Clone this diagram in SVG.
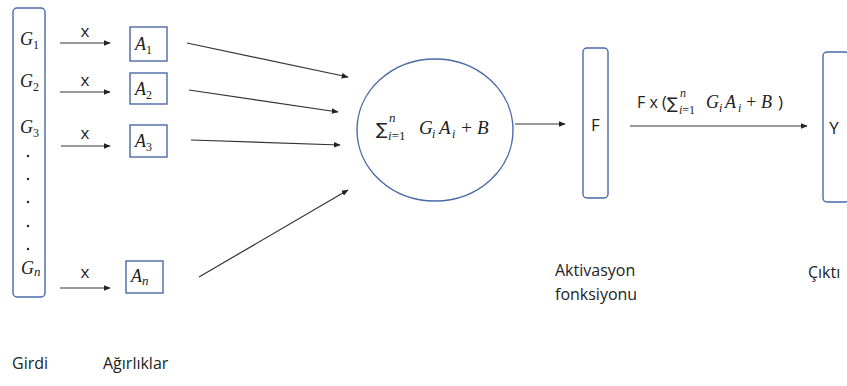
<svg xmlns="http://www.w3.org/2000/svg" width="847" height="386" viewBox="0 0 847 386">
<defs>
<marker id="ah" viewBox="0 0 10 10" refX="9" refY="5" markerWidth="7" markerHeight="7" orient="auto" markerUnits="userSpaceOnUse">
<path d="M0,1 L10,5 L0,9 z" fill="#222"/>
</marker>
<style>
.box{fill:#fff;stroke:#4a6aa8;stroke-width:1.4}
.ln{stroke:#333;stroke-width:1.2;fill:none;marker-end:url(#ah)}
.m{font-family:"Liberation Serif","DejaVu Serif",serif;font-style:italic;fill:#222}
.s{font-family:"DejaVu Sans","Liberation Serif",serif;fill:#222}
.t{font-family:"Open Sans","Liberation Sans",sans-serif;fill:#222}
</style>
</defs>
<rect width="847" height="386" fill="#fff"/>

<g id="girdi">
<rect class="box" x="13" y="8" width="32" height="289" rx="4"/>
<text class="m" x="20" y="45" font-size="18">G<tspan font-size="12" font-style="normal" dy="4">1</tspan></text>
<text class="m" x="20" y="87" font-size="18">G<tspan font-size="12" font-style="normal" dy="4">2</tspan></text>
<text class="m" x="20" y="133" font-size="18">G<tspan font-size="12" font-style="normal" dy="4">3</tspan></text>
<g fill="#222">
<circle cx="28" cy="156" r="1.2"/><circle cx="28" cy="179" r="1.2"/><circle cx="28" cy="202" r="1.2"/><circle cx="28" cy="226" r="1.2"/><circle cx="28" cy="249" r="1.2"/>
</g>
<text class="m" x="21" y="274" font-size="18">G<tspan font-size="13" dy="2">n</tspan></text>
</g>

<g id="a1">
<rect class="box" x="130" y="27" width="37" height="34"/>
<text class="m" x="135" y="50" font-size="18">A<tspan font-size="12" font-style="normal" dy="4">1</tspan></text>
</g>
<g id="a2">
<rect class="box" x="130" y="73" width="37" height="31"/>
<text class="m" x="135" y="95" font-size="18">A<tspan font-size="12" font-style="normal" dy="4">2</tspan></text>
</g>
<g id="a3">
<rect class="box" x="130" y="125" width="37" height="32"/>
<text class="m" x="135" y="147" font-size="18">A<tspan font-size="12" font-style="normal" dy="4">3</tspan></text>
</g>
<g id="an">
<rect class="box" x="126" y="261" width="37" height="32"/>
<text class="m" x="131" y="282" font-size="18">A<tspan font-size="13" dy="3">n</tspan></text>
</g>

<g id="toplam">
<ellipse class="box" cx="435" cy="130" rx="78" ry="71"/>
<text class="s" x="376" y="135" font-size="17">∑</text>
<text class="m" x="389" y="122" font-size="13">n</text>
<text class="m" x="388" y="140" font-size="13">i<tspan font-style="normal">=1</tspan></text>
<text class="m" x="419" y="134" font-size="19">G</text>
<text class="m" x="432" y="138" font-size="12">i</text>
<text class="m" x="439" y="134" font-size="19">A</text>
<text class="m" x="452" y="138" font-size="12">i</text>
<text class="m" x="460" y="134" font-size="19" font-style="normal">+</text>
<text class="m" x="477" y="134" font-size="19">B</text>
</g>

<g id="f">
<rect class="box" x="583" y="48" width="25" height="150" rx="4"/>
<text class="t" x="595.5" y="131" font-size="17" text-anchor="middle">F</text>
</g>

<g id="y">
<rect class="box" x="823" y="52" width="26" height="150" rx="4"/>
<text class="t" x="834" y="134" font-size="17" text-anchor="middle">Y</text>
</g>

<g id="connectors">
<line class="ln" x1="60" y1="43" x2="110" y2="43"/>
<line class="ln" x1="60" y1="92" x2="110" y2="92"/>
<line class="ln" x1="61" y1="146" x2="110" y2="146"/>
<line class="ln" x1="60" y1="288" x2="110" y2="288"/>
<line class="ln" x1="187" y1="43" x2="348" y2="77"/>
<line class="ln" x1="189" y1="90" x2="338" y2="112"/>
<line class="ln" x1="191" y1="140" x2="340" y2="145"/>
<line class="ln" x1="199" y1="277" x2="348" y2="190"/>
<line class="ln" x1="515" y1="124" x2="565" y2="124"/>
<line class="ln" x1="630" y1="126" x2="807" y2="126"/>
</g>

<g id="labels">
<text class="t" x="85" y="37" font-size="17" text-anchor="middle">x</text>
<text class="t" x="85" y="86" font-size="17" text-anchor="middle">x</text>
<text class="t" x="85" y="139" font-size="17" text-anchor="middle">x</text>
<text class="t" x="85" y="278" font-size="17" text-anchor="middle">x</text>
<text class="t" x="637" y="108" font-size="16">F x (</text>
<text class="s" x="667" y="109" font-size="16">∑</text>
<text class="m" x="680" y="97" font-size="12">n</text>
<text class="m" x="679" y="114" font-size="12">i<tspan font-style="normal">=1</tspan></text>
<text class="m" x="706" y="108" font-size="18">G</text>
<text class="m" x="719" y="112" font-size="12">i</text>
<text class="m" x="725" y="108" font-size="18">A</text>
<text class="m" x="738" y="112" font-size="12">i</text>
<text class="m" x="745" y="108" font-size="18" font-style="normal">+</text>
<text class="m" x="761" y="108" font-size="18">B</text>
<text class="t" x="778" y="108" font-size="17">)</text>
<text class="t" x="555" y="276" font-size="16">Aktivasyon</text>
<text class="t" x="555" y="300" font-size="16">fonksiyonu</text>
<text class="t" x="808" y="278" font-size="16">Çıktı</text>
<text class="t" x="12" y="369" font-size="16">Girdi</text>
<text class="t" x="103" y="369" font-size="16">Ağırlıklar</text>
</g>
</svg>
